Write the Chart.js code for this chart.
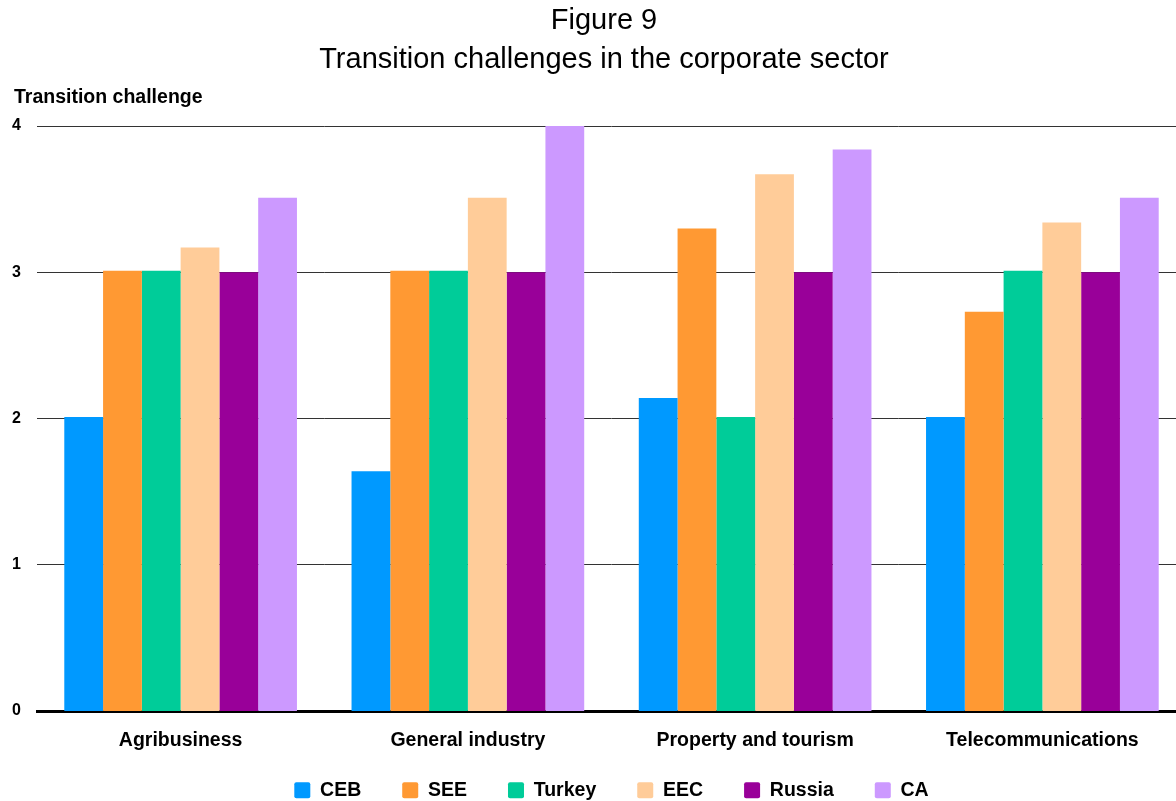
<!DOCTYPE html>
<html>
<head>
<meta charset="utf-8">
<script src="https://cdn.jsdelivr.net/npm/chart.js@4/dist/chart.umd.min.js"></script>
<style>
html,body{margin:0;padding:0;background:#fff;overflow:hidden;}
#wrap{width:1210px;height:810px;position:relative;}
</style>
</head>
<body>
<div id="wrap"><canvas id="c"></canvas></div>
<script>
const categories = ['Agribusiness', 'General industry', 'Property and tourism', 'Telecommunications'];
const seriesNames = ['CEB', 'SEE', 'Turkey', 'EEC', 'Russia', 'CA'];
const CEB    = [2.01, 1.64, 2.14, 2.01];
const SEE    = [3.01, 3.01, 3.30, 2.73];
const Turkey = [3.01, 3.01, 2.01, 3.01];
const EEC    = [3.17, 3.51, 3.67, 3.34];
const Russia = [3.00, 3.00, 3.00, 3.00];
const CA     = [3.51, 4.00, 3.84, 3.51];
const yTicks = [0, 1, 2, 3, 4];
const titleLines = ['Figure 9', 'Transition challenges in the corporate sector'];
const yAxisTitle = 'Transition challenge';

const colors = ['#0099ff', '#ff9933', '#00cc99', '#ffcc99', '#990099', '#cc99ff'];
const seriesValues = [CEB, SEE, Turkey, EEC, Russia, CA];
const FONT = '"Liberation Sans", Arial, sans-serif';

const axisTitlePlugin = {
  id: 'axisTitle',
  afterDraw(chart) {
    const ctx = chart.ctx;
    ctx.save();
    ctx.font = 'bold 19.5px ' + FONT;
    ctx.fillStyle = '#000';
    ctx.textAlign = 'left';
    ctx.textBaseline = 'middle';
    ctx.fillText(yAxisTitle, 14, chart.chartArea.top - 28);
    ctx.restore();
  }
};

const noLabelClip = (s) => { s._computeLabelArea = () => undefined; };

new Chart(document.getElementById('c'), {
  type: 'bar',
  data: {
    labels: categories,
    datasets: seriesNames.map((n, i) => ({
      label: n,
      data: seriesValues[i],
      backgroundColor: colors[i],
      borderWidth: 0,
      categoryPercentage: 0.81,
      barPercentage: 1.0
    }))
  },
  options: {
    responsive: true,
    maintainAspectRatio: false,
    animation: false,
    layout: { padding: { left: 22, right: 24, top: 0, bottom: 0 } },
    plugins: {
      title: {
        display: true,
        text: titleLines,
        color: '#000',
        font: { family: FONT, size: 29, weight: 'normal', lineHeight: 39 / 29 },
        padding: { top: 1.5, bottom: 46.5 }
      },
      legend: {
        position: 'bottom',
        fullSize: false,
        labels: {
          color: '#000',
          font: { family: FONT, size: 19.5, weight: 'bold' },
          boxWidth: 16,
          boxHeight: 16,
          padding: 41,
          useBorderRadius: true,
          borderRadius: 2
        }
      },
      tooltip: { enabled: false }
    },
    scales: {
      x: {
        afterFit: (s) => { s.height = 28.5; noLabelClip(s); },
        grid: { display: false, drawTicks: false },
        border: { display: true, color: '#000', width: 3 },
        ticks: {
          color: '#000',
          padding: 18,
          font: { family: FONT, size: 19.5, weight: 'bold' }
        }
      },
      y: {
        min: 0,
        max: 4,
        afterBuildTicks: (s) => { s.ticks = yTicks.map(v => ({ value: v })); },
        afterFit: (s) => { s.width = 15; noLabelClip(s); },
        border: { display: false },
        grid: {
          drawTicks: false,
          color: '#333',
          lineWidth: (ctx) => (ctx.tick && ctx.tick.value === 0 ? 0 : 1)
        },
        ticks: {
          color: '#000',
          padding: 16,
          font: { family: FONT, size: 16, weight: 'bold' }
        }
      }
    }
  },
  plugins: [axisTitlePlugin]
});
</script>
</body>
</html>
